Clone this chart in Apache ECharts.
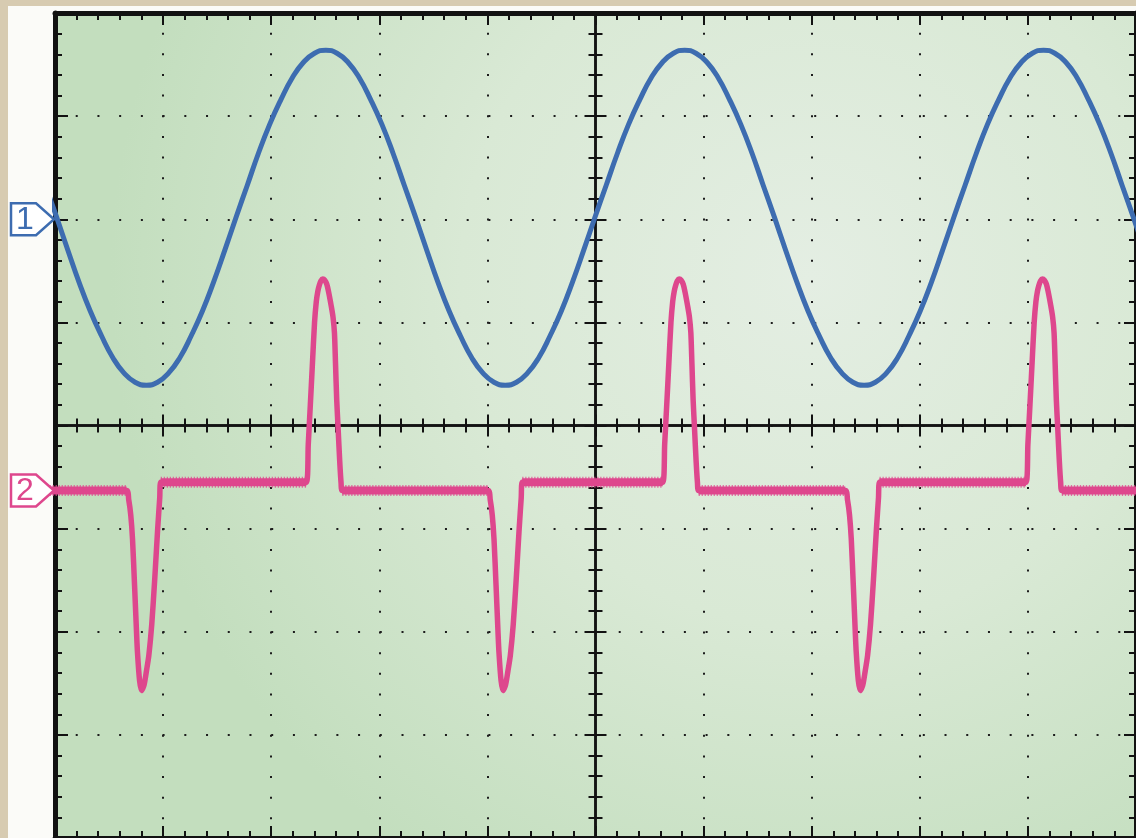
<!DOCTYPE html>
<html>
<head>
<meta charset="utf-8">
<script src="https://cdn.jsdelivr.net/npm/echarts@6/dist/echarts.min.js"></script>
<style>
  html, body { margin: 0; padding: 0; width: 1136px; height: 838px; overflow: hidden; background: #d7cbb1; }
  #bezel { position: absolute; left: 8px; top: 6px; right: 0; bottom: 0; background: #fbfbf8; }
  #chart { position: absolute; left: 0; top: 0; width: 1136px; height: 838px; }
</style>
</head>
<body>
<div id="bezel"></div>
<div id="chart"></div>
<script>
// Time in screen divisions, measured from the centre graticule line.
// Channel 1: sine wave (divisions on the vertical scale).
const TIME_CH1 = [
  -5.089, -4.985, -4.881, -4.778, -4.674, -4.570, -4.466, -4.363, -4.259, -4.155,
  -4.051, -3.948, -3.844, -3.740, -3.636, -3.533, -3.429, -3.325, -3.221, -3.118,
  -3.014, -2.910, -2.806, -2.703, -2.599, -2.495, -2.391, -2.288, -2.184, -2.080,
  -1.976, -1.873, -1.769, -1.665, -1.561, -1.458, -1.354, -1.250, -1.146, -1.043,
  -0.939, -0.835, -0.731, -0.628, -0.524, -0.420, -0.316, -0.213, -0.109, -0.005,
  0.099, 0.203, 0.306, 0.410, 0.514, 0.618, 0.721, 0.825, 0.929, 1.033,
  1.136, 1.240, 1.344, 1.448, 1.551, 1.655, 1.759, 1.863, 1.966, 2.070,
  2.174, 2.278, 2.381, 2.485, 2.589, 2.693, 2.796, 2.900, 3.004, 3.108,
  3.211, 3.315, 3.419, 3.523, 3.626, 3.730, 3.834, 3.938, 4.041, 4.145,
  4.249, 4.353, 4.456, 4.560, 4.664, 4.768, 4.871, 4.975, 5.079
];
const VOLT_CH1 = [
  2.33,
  2.02, 1.70, 1.39, 1.11, 0.87, 0.66, 0.51, 0.42, 0.39, 0.42, 0.51, 0.66, 0.87, 1.11, 1.39, 1.70,
  2.02, 2.33, 2.64, 2.92, 3.16, 3.37, 3.52, 3.61, 3.64, 3.61, 3.52, 3.37, 3.16, 2.92, 2.64, 2.33,
  2.02, 1.70, 1.39, 1.11, 0.87, 0.66, 0.51, 0.42, 0.39, 0.42, 0.51, 0.66, 0.87, 1.11, 1.39, 1.70,
  2.02, 2.33, 2.64, 2.92, 3.16, 3.37, 3.52, 3.61, 3.64, 3.61, 3.52, 3.37, 3.16, 2.92, 2.64, 2.33,
  2.02, 1.70, 1.39, 1.11, 0.87, 0.66, 0.51, 0.42, 0.39, 0.42, 0.51, 0.66, 0.87, 1.11, 1.39, 1.70,
  2.02, 2.33, 2.64, 2.92, 3.16, 3.37, 3.52, 3.61, 3.64, 3.61, 3.52, 3.37, 3.16, 2.92, 2.64, 2.33,
  2.02, 1.70
];

// Channel 2: pulse train (negative dips and positive spikes between two baseline levels).
const TIME_CH2 = [
  -5.05,
  -4.338, -4.318, -4.299, -4.283, -4.264, -4.246, -4.237, -4.218, -4.200,
  -4.177, -4.154, -4.132, -4.105, -4.078, -4.050, -4.031, -4.022,
  -2.675, -2.657, -2.638, -2.620, -2.599, -2.583, -2.569, -2.555, -2.541, -2.523, -2.505,
  -2.486, -2.468, -2.445, -2.428, -2.415, -2.405, -2.394, -2.380, -2.366, -2.354, -2.343,
  -0.994, -0.974, -0.955, -0.939, -0.920, -0.902, -0.893, -0.874, -0.856,
  -0.833, -0.810, -0.788, -0.761, -0.734, -0.706, -0.687, -0.678,
  0.622, 0.640, 0.659, 0.677, 0.698, 0.714, 0.728, 0.742, 0.756, 0.774, 0.792,
  0.811, 0.829, 0.852, 0.869, 0.882, 0.892, 0.903, 0.917, 0.931, 0.943, 0.954,
  2.311, 2.331, 2.350, 2.366, 2.385, 2.403, 2.412, 2.431, 2.449,
  2.472, 2.495, 2.517, 2.544, 2.571, 2.599, 2.618, 2.627,
  3.982, 4.000, 4.019, 4.037, 4.058, 4.074, 4.088, 4.102, 4.116, 4.134, 4.152,
  4.171, 4.189, 4.212, 4.229, 4.242, 4.252, 4.263, 4.277, 4.291, 4.303, 4.314,
  5.05
];
const VOLT_CH2 = [
  -0.63,
  -0.63, -0.72, -0.87, -1.10, -1.55, -2.00, -2.20, -2.47, -2.57,
  -2.52, -2.38, -2.23, -1.93, -1.50, -1.00, -0.70, -0.55,
  -0.55, -0.18, 0.20, 0.57, 1.00, 1.20, 1.30, 1.36, 1.40, 1.42, 1.41,
  1.37, 1.29, 1.16, 1.05, 0.90, 0.60, 0.25, -0.05, -0.35, -0.55, -0.63,
  -0.63, -0.72, -0.87, -1.10, -1.55, -2.00, -2.20, -2.47, -2.57,
  -2.52, -2.38, -2.23, -1.93, -1.50, -1.00, -0.70, -0.55,
  -0.55, -0.18, 0.20, 0.57, 1.00, 1.20, 1.30, 1.36, 1.40, 1.42, 1.41,
  1.37, 1.29, 1.16, 1.05, 0.90, 0.60, 0.25, -0.05, -0.35, -0.55, -0.63,
  -0.63, -0.72, -0.87, -1.10, -1.55, -2.00, -2.20, -2.47, -2.57,
  -2.52, -2.38, -2.23, -1.93, -1.50, -1.00, -0.70, -0.55,
  -0.55, -0.18, 0.20, 0.57, 1.00, 1.20, 1.30, 1.36, 1.40, 1.42, 1.41,
  1.37, 1.29, 1.16, 1.05, 0.90, 0.60, 0.25, -0.05, -0.35, -0.55, -0.63,
  -0.63
];

// Channel reference markers on the left edge
const CHANNEL_LABELS = ['1', '2'];
const CHANNEL_OFFSETS = [2.0, -0.63];
const CHANNEL_COLORS = ['#3d6cb0', '#de478d'];

// Graticule: 10 x 8 divisions, 5 minor ticks per division
const X_RANGE = [-5, 5];
const Y_RANGE = [-4, 4];
const MINOR_SPLIT = 5;

const INK = '#121212';
const GRID = { left: 55, top: 13, width: 1086, height: 826 };

function pairs(xs, ys) { return xs.map((x, i) => [x, ys[i]]); }

// Flat stretches of channel 2 get a heavier stroke (the noisy baseline band)
function flatRuns(xs, ys) {
  const out = [];
  for (let i = 0; i < xs.length - 1; i++) {
    if (ys[i] === ys[i + 1]) {
      out.push([xs[i], ys[i]], [xs[i + 1], ys[i + 1]], null);
    }
  }
  return out;
}

function axis(dim, extra) {
  const base = {
    type: 'value',
    min: dim === 'x' ? X_RANGE[0] : Y_RANGE[0],
    max: dim === 'x' ? X_RANGE[1] : Y_RANGE[1],
    interval: 1,
    axisLabel: { show: false },
    splitLine: { show: false },
    axisLine: { show: true, onZero: false, lineStyle: { color: INK, width: 5 } },
    axisTick: { show: true, inside: true, length: 12, lineStyle: { color: INK, width: 2 } },
    minorTick: { show: true, splitNumber: MINOR_SPLIT, length: 7, lineStyle: { color: INK, width: 2 } }
  };
  return Object.assign(base, extra);
}

const dotV = GRID.height / ((Y_RANGE[1] - Y_RANGE[0]) * MINOR_SPLIT);
const dotH = GRID.width / ((X_RANGE[1] - X_RANGE[0]) * MINOR_SPLIT);

const centreLine = (idx) => ({ show: true, onZero: true, onZeroAxisIndex: idx, lineStyle: { color: INK, width: 2.5 } });
const centreTick = { show: true, inside: false, length: 11, lineStyle: { color: INK, width: 2 } };
const centreMinor = { show: true, splitNumber: MINOR_SPLIT, length: 7, lineStyle: { color: INK, width: 2 } };

const chart = echarts.init(document.getElementById('chart'), null, { renderer: 'canvas' });

const option = {
  animation: false,
  backgroundColor: 'transparent',
  grid: Object.assign({
    show: true,
    borderWidth: 0,
    backgroundColor: {
      type: 'radial', x: 0.7, y: 0.32, r: 0.85,
      colorStops: [
        { offset: 0, color: '#e4eee3' },
        { offset: 0.5, color: '#d9e9d5' },
        { offset: 1, color: '#c3debe' }
      ]
    }
  }, GRID),
  xAxis: [
    axis('x', {
      position: 'top',
      splitLine: { show: true, lineStyle: { color: '#1c1c1c', width: 2, type: [2, dotV - 2], dashOffset: 1 } }
    }),
    axis('x', { position: 'bottom' }),
    axis('x', { position: 'bottom', axisLine: centreLine(0), axisTick: centreTick, minorTick: centreMinor }),
    axis('x', { position: 'top', axisLine: centreLine(0), axisTick: centreTick, minorTick: centreMinor })
  ],
  yAxis: [
    axis('y', {
      position: 'left',
      axisTick: { show: true, inside: true, length: 13, lineStyle: { color: INK, width: 2 } },
      splitLine: { show: true, lineStyle: { color: '#1c1c1c', width: 2, type: [2, dotH - 2], dashOffset: 1 } }
    }),
    axis('y', { position: 'right' }),
    axis('y', { position: 'left', axisLine: centreLine(0), axisTick: centreTick, minorTick: centreMinor }),
    axis('y', { position: 'right', axisLine: centreLine(0), axisTick: centreTick, minorTick: centreMinor })
  ],
  series: [
    {
      name: 'CH2 band',
      type: 'line',
      xAxisIndex: 0, yAxisIndex: 0,
      data: flatRuns(TIME_CH2, VOLT_CH2),
      symbol: 'none',
      connectNulls: false,
      lineStyle: { color: CHANNEL_COLORS[1], width: 8, cap: 'butt' },
      z: 3
    },
    {
      name: 'CH2 fringe',
      type: 'line',
      xAxisIndex: 0, yAxisIndex: 0,
      data: flatRuns(TIME_CH2, VOLT_CH2),
      symbol: 'none',
      connectNulls: false,
      lineStyle: { color: CHANNEL_COLORS[1], width: 11, type: [1.3, 1.7], opacity: 0.75, cap: 'butt' },
      z: 3
    },
    {
      name: 'CH2',
      type: 'line',
      xAxisIndex: 0, yAxisIndex: 0,
      data: pairs(TIME_CH2, VOLT_CH2),
      symbol: 'none',
      smooth: 0.25,
      lineStyle: { color: CHANNEL_COLORS[1], width: 5.5, join: 'round', cap: 'round' },
      z: 3
    },
    {
      name: 'CH1',
      type: 'line',
      xAxisIndex: 0, yAxisIndex: 0,
      data: pairs(TIME_CH1, VOLT_CH1),
      symbol: 'none',
      smooth: true,
      lineStyle: { color: CHANNEL_COLORS[0], width: 5, join: 'round', cap: 'round' },
      z: 4
    }
  ]
};

chart.setOption(option);

// Channel ground-reference markers, placed at each channel's offset level
const markers = [];
CHANNEL_LABELS.forEach((label, i) => {
  const y = chart.convertToPixel({ yAxisIndex: 0 }, CHANNEL_OFFSETS[i]);
  const c = CHANNEL_COLORS[i];
  markers.push({
    type: 'polygon',
    z: 20,
    shape: { points: [[11, y - 16], [36, y - 16], [54, y], [36, y + 16], [11, y + 16]] },
    style: { fill: '#ffffff', stroke: c, lineWidth: 2.5, lineJoin: 'miter' }
  });
  markers.push({
    type: 'text',
    z: 21,
    x: 25, y: y + 1,
    style: {
      text: label, fill: c,
      font: '32px "Liberation Sans", Arial, sans-serif',
      align: 'center', verticalAlign: 'middle'
    }
  });
});
chart.setOption({ graphic: markers });
</script>
</body>
</html>
